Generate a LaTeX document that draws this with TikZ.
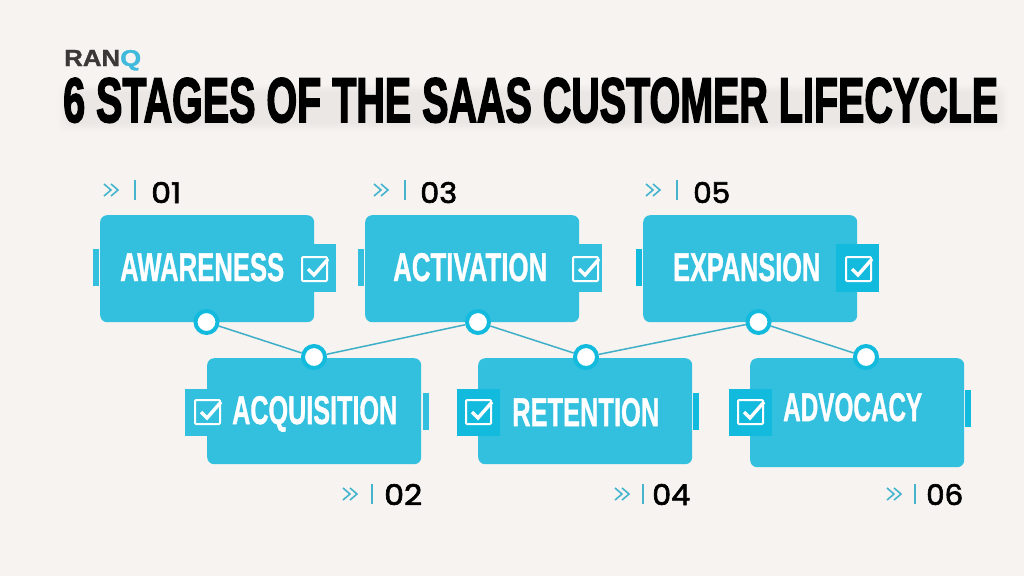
\documentclass[tikz,border=0pt]{standalone}
\usepackage{fontspec}
\usepackage{graphicx}
\setmainfont{Liberation Sans}
\newfontfamily\titlef[FakeBold=3]{Liberation Sans Bold}
\newfontfamily\stagef[FakeBold=1.2]{Liberation Sans Bold}
\newfontfamily\numf[FakeBold=2.2]{Poppins}
\newfontfamily\logof[FakeBold=1.2]{Liberation Sans Bold}
\definecolor{bgc}{HTML}{F6F3F0}
\definecolor{boxc}{HTML}{33BFDE}
\definecolor{darkc}{HTML}{12BBDD}
\definecolor{linec}{HTML}{3FAFC8}
\definecolor{chevc}{HTML}{45B5CE}
\definecolor{logoc}{HTML}{3B3838}
\definecolor{logoq}{HTML}{3FB9DC}
\tikzset{
 x=1pt,y=-1pt,
 stagebox/.style={fill=boxc,rounded corners=7pt,draw=none,inner sep=0pt,anchor=north west},
 stagetxt/.style={inner sep=0pt,anchor=base west,text=white},
 numtxt/.style={inner sep=0pt,anchor=base west,text=black},
 joint/.style={circle,draw=darkc,fill=white,line width=4pt,minimum size=22pt,inner sep=0pt},
 conn/.style={draw=linec,line width=1.5pt},
 icon/.style={draw=white,line width=2pt,rounded corners=1pt},
 chev/.style={draw=chevc,line width=1.6pt},
 barln/.style={draw=chevc,line width=1.5pt}
}
\newcommand{\stage}[4]{\node[stagebox,minimum width=214pt,minimum height=#4pt] (#1) at (#2,#3) {};}
\newcommand{\checkicon}[2]{%
 \draw[icon] (#1+0,#2+0) rectangle (#1+25,#2+24);
 \draw[white,line width=3.4pt] (#1+6,#2+12) -- (#1+12,#2+18) -- (#1+26,#2+2);
}
\newcommand{\marker}[3]{% x of chevrons, y center, x of bar
 \draw[chev] (#1,#2-6) -- (#1+7,#2) -- (#1,#2+6);
 \draw[chev] (#1+7,#2-6) -- (#1+14,#2) -- (#1+7,#2+6);
 \draw[barln] (#3,#2-10) -- (#3,#2+10);
}
\newcommand{\fit}[3]{\resizebox{#1pt}{#2pt}{#3}}
\begin{document}
\begin{tikzpicture}
\path[use as bounding box,fill=bgc] (0,0) rectangle (1024,576);
% title soft shadow
\foreach \d in {0,1.5,3,4.5,6,7.5}{\fill[black,opacity=0.007,rounded corners=8pt] (66-\d,92-\d) rectangle (1000+\d,124+\d);}
% logo
\node[inner sep=0pt,anchor=base west,text=logoc] (logo) at (64,66) {\fit{56}{16}{\logof RAN}};
\node[inner sep=0pt,anchor=base west,text=logoq] (logoQ) at (120,66) {\fit{21}{16}{\logof Q}};
% title
\node[inner sep=0pt,anchor=base west,text=black] (title) at (63,122) {\fit{935}{44}{\titlef 6 STAGES OF THE SAAS CUSTOMER LIFECYCLE}};
% tabs
\fill[boxc] (93,249) rectangle (99,286);
\fill[boxc] (305,244) rectangle (336,292);
\fill[boxc] (358,249) rectangle (364,286);
\fill[boxc] (570,244) rectangle (602,292);
\fill[darkc] (636,249) rectangle (642,286);
\fill[boxc] (185,389) rectangle (215,436);
\fill[boxc] (422.5,393) rectangle (429,430);
\fill[darkc] (693,393) rectangle (699,430);
\fill[darkc] (965,390) rectangle (971,427);
% boxes
\stage{s1}{100}{215}{107}
\stage{s3}{365}{215}{107}
\stage{s5}{643}{215}{107}
\stage{s2}{207}{358}{106}
\stage{s4}{478}{358}{106}
\stage{s6}{750}{358}{109}
% dark squares over boxes
\fill[darkc] (836,244) rectangle (879,292);
\fill[darkc] (457,389) rectangle (500,436);
\fill[darkc] (729,389) rectangle (772,436);
% joints and connectors
\node[joint] (j1) at (206.5,322) {};
\node[joint] (j2) at (314,357) {};
\node[joint] (j3) at (478,322) {};
\node[joint] (j4) at (586,357) {};
\node[joint] (j5) at (758.5,322) {};
\node[joint] (j6) at (866,357) {};
\draw[conn] (j1) -- (j2);
\draw[conn] (j2) -- (j3);
\draw[conn] (j3) -- (j4);
\draw[conn] (j4) -- (j5);
\draw[conn] (j5) -- (j6);
% labels
\node[stagetxt] (t1) at (120,281) {\fit{164}{28}{\stagef AWARENESS}};
\node[stagetxt] (t3) at (393,281) {\fit{154}{28}{\stagef ACTIVATION}};
\node[stagetxt] (t5) at (673,281) {\fit{147}{28}{\stagef EXPANSION}};
\node[stagetxt] (t2) at (232,424) {\fit{165}{28}{\stagef ACQUISITION}};
\node[stagetxt] (t4) at (512,426) {\fit{147}{28}{\stagef RETENTION}};
\node[stagetxt] (t6) at (783,421) {\fit{139}{28}{\stagef ADVOCACY}};
% icons
\checkicon{302}{257}
\checkicon{573}{257}
\checkicon{846}{257}
\checkicon{195}{400}
\checkicon{466}{400}
\checkicon{738}{400}
% numbers
\marker{104}{190}{135}
\marker{374}{190}{405}
\marker{646}{190}{677}
\marker{343}{494}{372}
\marker{615}{494}{643}
\marker{887}{494}{915}
\node[numtxt] (n1) at (151,203) {\fit{30}{21}{\numf 01}};
\node[numtxt] (n3) at (420,203) {\fit{37}{21}{\numf 03}};
\node[numtxt] (n5) at (693,203) {\fit{37}{21}{\numf 05}};
\node[numtxt] (n2) at (384,505) {\fit{38}{21}{\numf 02}};
\node[numtxt] (n4) at (652,505) {\fit{38}{21}{\numf 04}};
\node[numtxt] (n6) at (926,505) {\fit{37}{21}{\numf 06}};
\end{tikzpicture}
\end{document}
